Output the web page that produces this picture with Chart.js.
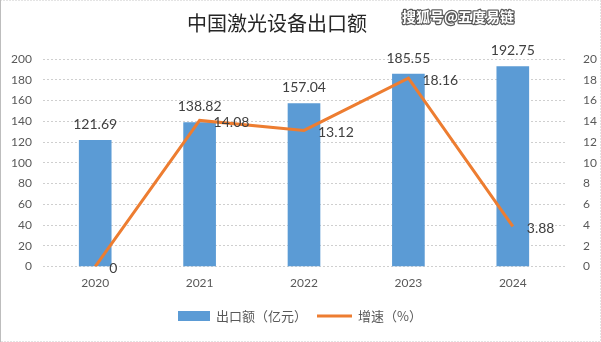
<!DOCTYPE html>
<html>
<head>
<meta charset="utf-8">
<script src="https://cdn.jsdelivr.net/npm/chart.js@4"></script>
<style>
  html, body { margin: 0; padding: 0; background: #fff; }
  #wrap { position: relative; width: 601px; height: 342px; }
</style>
</head>
<body>
<div id="wrap"><canvas id="chart" width="601" height="342"></canvas></div>
<script>
const years = ['2020', '2021', '2022', '2023', '2024'];
const exportValue = [121.69, 138.82, 157.04, 185.55, 192.75];
const growthRate = [0, 14.08, 13.12, 18.16, 3.88];
const leftTicks = [0, 20, 40, 60, 80, 100, 120, 140, 160, 180, 200];
const rightTicks = [0, 2, 4, 6, 8, 10, 12, 14, 16, 18, 20];

const cjk = '"Noto Sans CJK SC", sans-serif';
const latin = 'Lato, "Noto Sans", sans-serif';

// title, watermark, frame, legend and value labels
const decor = {
  id: 'decor',
  afterDraw(chart) {
    const ctx = chart.ctx;
    const ds = chart.data.datasets;
    ctx.save();

    // frame
    ctx.strokeStyle = '#c8c8c8';
    ctx.lineWidth = 1;
    ctx.setLineDash([1, 2]);
    ctx.strokeRect(0.5, 0.5, chart.width - 1, chart.height - 1);
    ctx.setLineDash([]);
    ctx.strokeStyle = '#bdbdbd';
    ctx.beginPath();
    ctx.moveTo(0.5, 0);
    ctx.lineTo(0.5, chart.height);
    ctx.stroke();

    // title
    ctx.fillStyle = '#262626';
    ctx.font = '20px ' + cjk;
    ctx.textAlign = 'center';
    ctx.textBaseline = 'middle';
    ctx.fillText('中国激光设备出口额', 277, 23);

    // watermark
    ctx.font = 'bold 14px ' + cjk;
    ctx.textAlign = 'left';
    ctx.lineWidth = 2.5;
    ctx.strokeStyle = 'rgba(60,60,60,0.85)';
    ctx.lineJoin = 'round';
    ctx.strokeText('搜狐号@五度易链', 402, 17);
    ctx.fillStyle = '#ffffff';
    ctx.fillText('搜狐号@五度易链', 402, 17);

    // legend
    const ly = 316;
    ctx.fillStyle = ds[0].backgroundColor;
    ctx.fillRect(178, ly - 5, 32, 10);
    ctx.strokeStyle = ds[1].borderColor;
    ctx.lineWidth = 3;
    ctx.beginPath();
    ctx.moveTo(317, ly);
    ctx.lineTo(352, ly);
    ctx.stroke();
    ctx.fillStyle = '#595959';
    ctx.font = '13px ' + cjk;
    ctx.textBaseline = 'middle';
    ctx.fillText(ds[0].label, 216, ly);
    ctx.fillText(ds[1].label, 358, ly);

    // bar labels
    ctx.fillStyle = '#404040';
    ctx.font = '14px ' + latin;
    ctx.textAlign = 'center';
    ctx.textBaseline = 'bottom';
    chart.getDatasetMeta(0).data.forEach((bar, i) => {
      ctx.fillText(exportValue[i].toFixed(2), bar.x, bar.y - 9);
    });

    // line labels
    ctx.textAlign = 'left';
    ctx.textBaseline = 'middle';
    chart.getDatasetMeta(1).data.forEach((pt, i) => {
      ctx.fillText(String(growthRate[i]), pt.x + 14, pt.y + 2);
    });

    ctx.restore();
  }
};

new Chart(document.getElementById('chart'), {
  type: 'bar',
  data: {
    labels: years,
    datasets: [
      {
        label: '出口额（亿元）',
        data: exportValue,
        backgroundColor: '#5B9BD5',
        yAxisID: 'y',
        barThickness: 32,
        order: 2
      },
      {
        type: 'line',
        label: '增速（%）',
        data: growthRate,
        borderColor: '#ED7D31',
        backgroundColor: '#ED7D31',
        borderWidth: 3,
        pointRadius: 0,
        tension: 0,
        yAxisID: 'y1',
        order: 1
      }
    ]
  },
  options: {
    responsive: false,
    animation: false,
    layout: { padding: { top: 59, bottom: 51, left: 0, right: 0 } },
    plugins: {
      legend: { display: false },
      tooltip: { enabled: false }
    },
    scales: {
      x: {
        grid: { display: false },
        border: { display: false },
        ticks: { font: { family: latin, size: 12 }, color: '#595959', padding: 1 }
      },
      y: {
        position: 'left',
        min: 0,
        max: 200,
        afterFit(scale) { scale.width = 43; },
        afterBuildTicks(scale) { scale.ticks = leftTicks.map(v => ({ value: v })); },
        grid: { color: '#cfcfcf', drawTicks: false, lineWidth: 1 },
        border: { display: false, dash: [2, 2] },
        ticks: { font: { family: latin, size: 12 }, color: '#595959', padding: 11 }
      },
      y1: {
        position: 'right',
        min: 0,
        max: 20,
        afterFit(scale) { scale.width = 36; },
        afterBuildTicks(scale) { scale.ticks = rightTicks.map(v => ({ value: v })); },
        grid: { display: false },
        border: { display: false },
        ticks: { font: { family: latin, size: 12 }, color: '#595959', padding: 10 }
      }
    }
  },
  plugins: [decor]
});
</script>
</body>
</html>
